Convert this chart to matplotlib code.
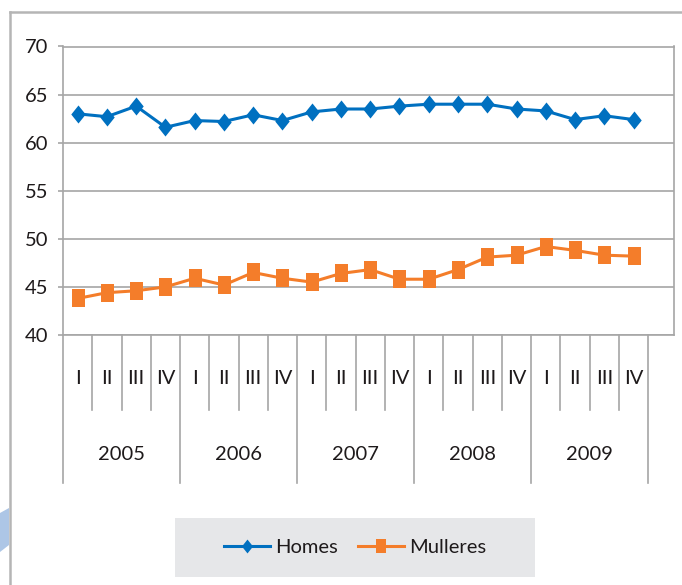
import matplotlib
matplotlib.use("Agg")
import matplotlib.pyplot as plt
import matplotlib.transforms as mtransforms
from matplotlib.patches import Rectangle, Polygon
from matplotlib.lines import Line2D

plt.rcParams['font.family'] = ['Lato', 'DejaVu Sans']

# ---- data ----
years = ["2005", "2006", "2007", "2008", "2009"]
quarters = ["I", "II", "III", "IV"]
homes = [63.0, 62.7, 63.8, 61.6, 62.3, 62.2, 62.9, 62.3, 63.2, 63.5,
         63.5, 63.8, 64.0, 64.0, 64.0, 63.5, 63.3, 62.4, 62.8, 62.4]
mulleres = [43.8, 44.4, 44.6, 45.0, 45.9, 45.2, 46.5, 45.9, 45.5, 46.4,
            46.8, 45.8, 45.8, 46.8, 48.1, 48.3, 49.2, 48.8, 48.3, 48.2]
series_names = ["Homes", "Mulleres"]
yticks = [40, 45, 50, 55, 60, 65, 70]

W, H = 682, 585
fig = plt.figure(figsize=(W / 100, H / 100), dpi=100)

def fx(px):
    return px / W

def fy(py):
    return 1 - py / H

left, right, top, bottom = 63, 674, 46.5, 335
ax = fig.add_axes([fx(left), fy(bottom), fx(right) - fx(left), fy(top) - fy(bottom)])

blue = "#0070c0"
orange = "#f47d2a"
grid_c = "#a6a6a6"
txt_c = "#1e1a1b"
fs = 14.5

diamond = [(0, 1), (0.8, 0), (0, -1), (-0.8, 0), (0, 1)]
rect = [(-0.72, -1), (0.72, -1), (0.72, 1), (-0.72, 1), (-0.72, -1)]

n = len(homes)
x = list(range(n))
ax.plot(x, homes, color=blue, lw=2.2, marker=diamond, ms=13,
        markeredgewidth=0, label=series_names[0], zorder=3)
ax.plot(x, mulleres, color=orange, lw=2.2, marker=rect, ms=13,
        markeredgewidth=0, label=series_names[1], zorder=3)

ax.set_xlim(-0.5, (right - left) / 29.26 - 0.5)
ax.set_ylim(40, 70)
ax.set_yticks(yticks)
ax.set_yticklabels([str(v) for v in yticks], fontsize=fs, color=txt_c)
ax.tick_params(axis='y', length=3.6, width=1.2, color=grid_c, pad=7)
ax.set_xticks([])
ax.yaxis.grid(True, color=grid_c, lw=1.2)
ax.set_axisbelow(True)
for s in ax.spines.values():
    s.set_color(grid_c)
    s.set_linewidth(1.2)

# category axis: separators and labels
trans = mtransforms.blended_transform_factory(ax.transData, fig.transFigure)
nq = len(quarters)
for k in range(n + 1):
    xb = k - 0.5
    is_year = (k % nq == 0)
    yend = 483 if is_year else 410
    ax.add_line(Line2D([xb, xb], [fy(bottom), fy(yend)], transform=trans,
                       color=grid_c, lw=1.2, clip_on=False))
for i in range(n):
    ax.text(i, fy(379), quarters[i % nq], transform=trans, ha='center', va='center',
            fontsize=fs, color=txt_c)
for j, yr in enumerate(years):
    ax.text(j * nq + (nq - 1) / 2, fy(455), yr, transform=trans, ha='center',
            va='center', fontsize=fs, color=txt_c)

# outer chart border
fig.add_artist(Line2D([fx(10), fx(10)], [fy(12), 0], transform=fig.transFigure,
                      color="#b5b5b5", lw=1.8))
fig.add_artist(Line2D([fx(10), 1], [fy(12), fy(12)], transform=fig.transFigure,
                      color="#b5b5b5", lw=1.8))

# decorative blue shape at the left edge
fig.add_artist(Polygon([(fx(0), fy(513)), (fx(9), fy(508)), (fx(9), fy(545)), (fx(0), fy(552))],
                       closed=True, transform=fig.transFigure, facecolor="#adc6e6",
                       edgecolor='none'))

# legend
fig.add_artist(Rectangle((fx(175), fy(577)), fx(535) - fx(175), fy(518) - fy(577),
                         transform=fig.transFigure, facecolor="#e6e7e9", edgecolor='none'))
handles = [Line2D([], [], color=blue, lw=2.2, marker=diamond, ms=10, markeredgewidth=0),
           Line2D([], [], color=orange, lw=2.2, marker=rect, ms=10, markeredgewidth=0)]
fig.legend(handles, series_names, loc='center', bbox_to_anchor=(fx(355), fy(547)),
           ncol=2, frameon=False, fontsize=fs, handlelength=2.3, handletextpad=0.25,
           columnspacing=1.0, labelcolor=txt_c)

fig.savefig("out.png", dpi=100)
